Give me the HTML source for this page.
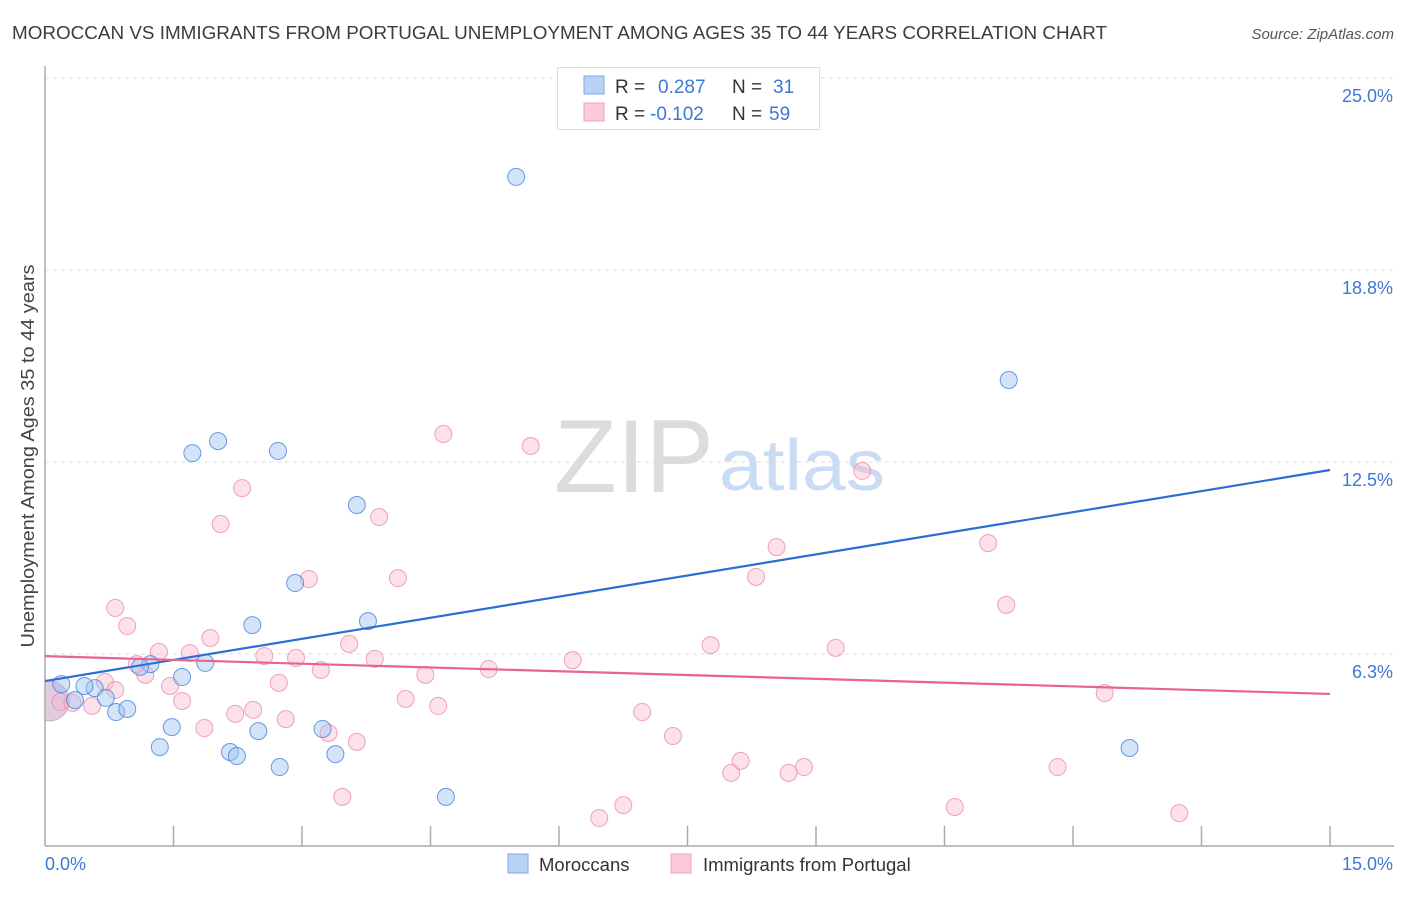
<!DOCTYPE html>
<html><head><meta charset="utf-8"><style>
body{margin:0;background:#fff;font-family:"Liberation Sans",sans-serif;}
svg text{font-family:"Liberation Sans",sans-serif;}
</style></head><body>
<svg id="chart" width="1406" height="892" viewBox="0 0 1406 892" xmlns="http://www.w3.org/2000/svg">
<text x="12" y="39" font-size="18.5" fill="#3c3c3c" textLength="1095" lengthAdjust="spacingAndGlyphs">MOROCCAN VS IMMIGRANTS FROM PORTUGAL UNEMPLOYMENT AMONG AGES 35 TO 44 YEARS CORRELATION CHART</text>
<text x="1394" y="39" font-size="15" fill="#555" text-anchor="end" font-style="italic">Source: ZipAtlas.com</text>
<text transform="translate(34,456) rotate(-90)" font-size="18" fill="#444" text-anchor="middle" textLength="383" lengthAdjust="spacingAndGlyphs">Unemployment Among Ages 35 to 44 years</text>
<g><text x="634" y="492" font-size="104" fill="#dcdcdc" text-anchor="middle" font-family="Liberation Serif, serif" textLength="160" lengthAdjust="spacingAndGlyphs">ZIP</text><text x="802" y="490" font-size="72" fill="#c9dcf3" text-anchor="middle" textLength="166" lengthAdjust="spacingAndGlyphs">atlas</text></g>
<g id="grid"></g>
<g id="axes"></g>
<defs><clipPath id="plotclip"><rect x="45" y="60" width="1300" height="786"/></clipPath></defs>
<g id="points" clip-path="url(#plotclip)"></g>
<g id="lines"></g>
<g>
<rect x="557.5" y="67.5" width="262" height="62" fill="#fff" stroke="#ddd"/>
<rect x="584" y="76" width="20" height="18" fill="#b8d2f4" stroke="#7fa8e4"/>
<rect x="584" y="103" width="20" height="18" fill="#fccadb" stroke="#f0a3bd"/>
<text x="615" y="93" font-size="19" fill="#333">R =</text><text x="658" y="93" font-size="19" fill="#3b78d6">0.287</text>
<text x="732" y="93" font-size="19" fill="#333">N =</text><text x="773" y="93" font-size="19" fill="#3b78d6">31</text>
<text x="615" y="120" font-size="19" fill="#333">R =</text><text x="650" y="120" font-size="19" fill="#3b78d6">-0.102</text>
<text x="732" y="120" font-size="19" fill="#333">N =</text><text x="769" y="120" font-size="19" fill="#3b78d6">59</text>
</g>
<g>
<rect x="508" y="854" width="20" height="19" fill="#b8d2f4" stroke="#7fa8e4"/>
<text x="539" y="871" font-size="18.5" fill="#333">Moroccans</text>
<rect x="671" y="854" width="20" height="19" fill="#fccadb" stroke="#f0a3bd"/>
<text x="703" y="871" font-size="18.5" fill="#333">Immigrants from Portugal</text>
</g>
</svg>
<script>
const xTickLabels = ["0.0%", "15.0%"];
const yTickValues = [6.25, 12.5, 18.75, 25];
const yTickLabels = ["6.3%", "12.5%", "18.8%", "25.0%"];
const blueX = [5.50,11.25,2.02,1.72,2.72,3.64,2.92,2.42,3.77,1.60,1.23,1.87,0.19,0.58,0.71,0.35,0.83,0.96,1.48,1.34,2.16,2.24,2.49,3.24,3.39,2.74,4.68,12.66,1.11,0.46];
const blueY = [21.78,15.17,13.18,12.79,12.86,11.10,8.56,7.19,7.32,5.50,5.92,5.96,5.27,5.14,4.82,4.75,4.36,4.46,3.87,3.22,3.06,2.93,3.74,3.81,2.99,2.57,1.60,3.19,5.83,5.21];
const pinkX = [4.65,5.67,9.54,2.30,2.05,3.90,11.01,8.54,3.08,4.12,8.30,11.22,0.82,0.96,1.93,1.33,1.69,3.55,7.77,9.23,2.56,2.93,3.85,6.16,5.18,3.22,1.17,4.44,0.70,1.46,2.73,1.60,4.21,4.59,12.37,0.55,2.22,2.43,2.81,6.97,1.86,3.31,3.64,7.33,8.12,8.01,8.86,8.68,11.82,3.47,6.75,6.47,10.62,13.24,0.18,0.32,0.82,1.07];
const pinkY = [13.41,13.02,12.21,11.65,10.48,10.71,9.86,9.73,8.69,8.72,8.76,7.85,7.75,7.16,6.77,6.32,6.28,6.58,6.54,6.45,6.18,6.12,6.09,6.05,5.76,5.73,5.57,5.57,5.34,5.21,5.31,4.72,4.79,4.56,4.98,4.56,4.30,4.43,4.13,4.36,3.84,3.68,3.39,3.58,2.77,2.38,2.57,2.38,2.57,1.60,1.33,0.91,1.27,1.07,4.69,4.66,5.08,5.92];
const bigPoint = [0.05, 4.72];
const blueTrend = [5.37, 12.24];
const pinkTrend = [6.18, 4.95];

const NS = "http://www.w3.org/2000/svg";
const X0 = 45, X1 = 1330, YB = 846, YT = 78;
function sx(v){ return X0 + v / 15 * (X1 - X0); }
function sy(v){ return YB - v / 25 * (YB - YT); }
function mk(tag, attrs, parent){ const e = document.createElementNS(NS, tag); for (const k in attrs) e.setAttribute(k, attrs[k]); parent.appendChild(e); return e; }

const grid = document.getElementById('grid');
yTickValues.forEach((v, i) => {
  const l = mk('line', {x1: X0, x2: 1394, y1: sy(v), y2: sy(v), stroke: '#ddd', 'stroke-dasharray': '4,4'}, grid);
  
  
  const t = mk('text', {x: 1393, y: sy(v) + 24, 'font-size': 18, fill: '#3b78d6', 'text-anchor': 'end'}, grid);
  
  
  t.textContent = yTickLabels[i];
});
const axes = document.getElementById('axes');
const ya = mk('line', {x1: X0, x2: X0, y1: 66, y2: YB, stroke: '#aaa', 'stroke-width': 1.5}, axes);


const xa = mk('line', {x1: X0, x2: 1394, y1: YB, y2: YB, stroke: '#aaa', 'stroke-width': 1.5}, axes);


for (let i = 1; i <= 10; i++) {
  const tk = mk('line', {x1: sx(i * 1.5), x2: sx(i * 1.5), y1: 826, y2: YB, stroke: '#aaa', 'stroke-width': 1.5}, axes);
  
  
}
const xl0 = mk('text', {x: 45, y: 870, 'font-size': 18, fill: '#3b78d6'}, axes);


xl0.textContent = xTickLabels[0];
const xl1 = mk('text', {x: 1393, y: 870, 'font-size': 18, fill: '#3b78d6', 'text-anchor': 'end'}, axes);


xl1.textContent = xTickLabels[1];

const pts = document.getElementById('points');
const big = mk('circle', {cx: sx(bigPoint[0]), cy: sy(bigPoint[1]), r: 20, fill: 'rgba(200,160,200,0.55)', stroke: 'rgba(180,130,190,0.6)'}, pts);


pinkX.forEach((x, i) => {
  const c = mk('circle', {cx: sx(x), cy: sy(pinkY[i]), r: 8.5, fill: 'rgba(248,180,202,0.4)', stroke: 'rgba(236,140,172,0.8)', 'stroke-width': 1}, pts);
  
  
});
blueX.forEach((x, i) => {
  const c = mk('circle', {cx: sx(x), cy: sy(blueY[i]), r: 8.5, fill: 'rgba(160,196,240,0.45)', stroke: 'rgba(70,130,220,0.8)', 'stroke-width': 1}, pts);
  
  
});
const lines = document.getElementById('lines');
const bl = mk('line', {x1: sx(0), y1: sy(blueTrend[0]), x2: sx(15), y2: sy(blueTrend[1]), stroke: '#2a6fd6', 'stroke-width': 2.2}, lines);


const pl = mk('line', {x1: sx(0), y1: sy(pinkTrend[0]), x2: sx(15), y2: sy(pinkTrend[1]), stroke: '#e8638f', 'stroke-width': 2.2}, lines);


</script>
</body></html>
